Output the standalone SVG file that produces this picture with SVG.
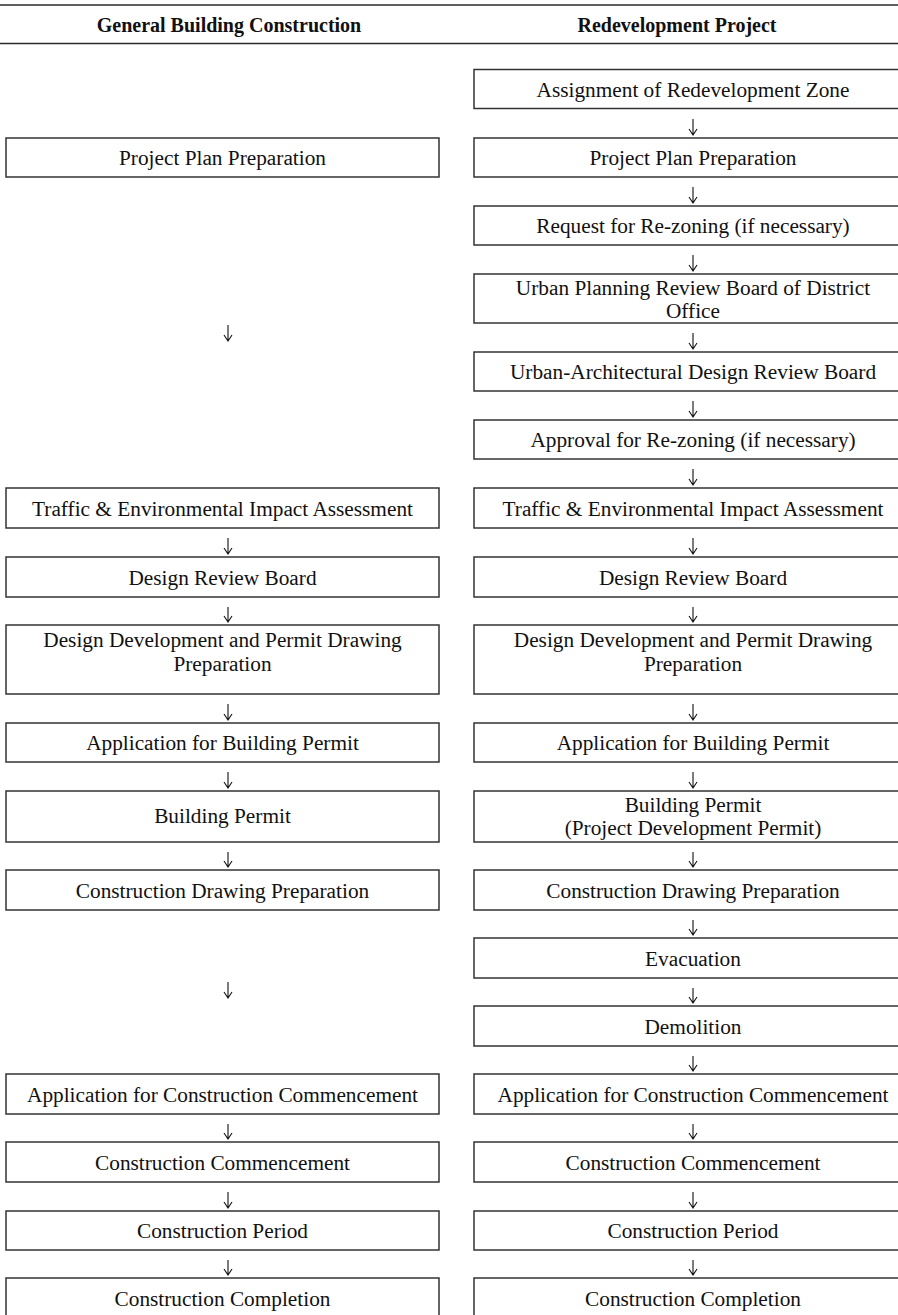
<svg xmlns="http://www.w3.org/2000/svg" width="898" height="1315" viewBox="0 0 898 1315">
<style>
.bg{fill:#fff}
.rule{stroke:#2a2a2a;stroke-width:1.6}
.box{fill:#fff;stroke:#333;stroke-width:1.5}
.t{font-family:"Liberation Serif","Times New Roman",serif;font-size:21.3px;fill:#111;text-anchor:middle}
.h{font-family:"Liberation Serif","Times New Roman",serif;font-size:20px;font-weight:bold;fill:#111;text-anchor:middle}
.arr{fill:none;stroke:#111;stroke-width:1.1}
</style>
<rect class="bg" x="0" y="0" width="898" height="1315"/>
<g id="header">
<line class="rule" x1="0" y1="5" x2="898" y2="5"/>
<line class="rule" x1="0" y1="43.5" x2="898" y2="43.5"/>
<text class="h" x="229" y="32">General Building Construction</text>
<text class="h" x="677" y="32">Redevelopment Project</text>
</g>
<g id="left-column">
<g id="L1"><rect class="box" x="6" y="138" width="433" height="39"/><text class="t" x="222.5" y="165">Project Plan Preparation</text></g>
<g id="L2"><rect class="box" x="6" y="488" width="433" height="40"/><text class="t" x="222.5" y="516">Traffic &amp; Environmental Impact Assessment</text></g>
<g id="L3"><rect class="box" x="6" y="557" width="433" height="40"/><text class="t" x="222.5" y="585">Design Review Board</text></g>
<g id="L4"><rect class="box" x="6" y="625" width="433" height="69"/><text class="t" x="222.5" y="647">Design Development and Permit Drawing</text><text class="t" x="222.5" y="671">Preparation</text></g>
<g id="L5"><rect class="box" x="6" y="723" width="433" height="39"/><text class="t" x="222.5" y="750">Application for Building Permit</text></g>
<g id="L6"><rect class="box" x="6" y="791" width="433" height="51"/><text class="t" x="222.5" y="823">Building Permit</text></g>
<g id="L7"><rect class="box" x="6" y="870" width="433" height="40"/><text class="t" x="222.5" y="898">Construction Drawing Preparation</text></g>
<g id="L8"><rect class="box" x="6" y="1074" width="433" height="40"/><text class="t" x="222.5" y="1102">Application for Construction Commencement</text></g>
<g id="L9"><rect class="box" x="6" y="1142" width="433" height="40"/><text class="t" x="222.5" y="1170">Construction Commencement</text></g>
<g id="L10"><rect class="box" x="6" y="1211" width="433" height="39"/><text class="t" x="222.5" y="1238">Construction Period</text></g>
<g id="L11"><rect class="box" x="6" y="1278" width="433" height="45"/><text class="t" x="222.5" y="1306">Construction Completion</text></g>
</g>
<g id="right-column">
<g id="R1"><rect class="box" x="474" y="69.5" width="440" height="39"/><text class="t" x="693" y="96.5">Assignment of Redevelopment Zone</text></g>
<g id="R2"><rect class="box" x="474" y="138" width="440" height="39"/><text class="t" x="693" y="165">Project Plan Preparation</text></g>
<g id="R3"><rect class="box" x="474" y="206" width="440" height="39"/><text class="t" x="693" y="233">Request for Re-zoning (if necessary)</text></g>
<g id="R4"><rect class="box" x="474" y="274" width="440" height="49"/><text class="t" x="693" y="295">Urban Planning Review Board of District</text><text class="t" x="693" y="318">Office</text></g>
<g id="R5"><rect class="box" x="474" y="352" width="440" height="39"/><text class="t" x="693" y="379">Urban-Architectural Design Review Board</text></g>
<g id="R6"><rect class="box" x="474" y="420" width="440" height="39"/><text class="t" x="693" y="447">Approval for Re-zoning (if necessary)</text></g>
<g id="R7"><rect class="box" x="474" y="488" width="440" height="40"/><text class="t" x="693" y="516">Traffic &amp; Environmental Impact Assessment</text></g>
<g id="R8"><rect class="box" x="474" y="557" width="440" height="40"/><text class="t" x="693" y="585">Design Review Board</text></g>
<g id="R9"><rect class="box" x="474" y="625" width="440" height="69"/><text class="t" x="693" y="647">Design Development and Permit Drawing</text><text class="t" x="693" y="671">Preparation</text></g>
<g id="R10"><rect class="box" x="474" y="723" width="440" height="39"/><text class="t" x="693" y="750">Application for Building Permit</text></g>
<g id="R11"><rect class="box" x="474" y="791" width="440" height="51"/><text class="t" x="693" y="812">Building Permit</text><text class="t" x="693" y="835">(Project Development Permit)</text></g>
<g id="R12"><rect class="box" x="474" y="870" width="440" height="40"/><text class="t" x="693" y="898">Construction Drawing Preparation</text></g>
<g id="R13"><rect class="box" x="474" y="938" width="440" height="40"/><text class="t" x="693" y="966">Evacuation</text></g>
<g id="R14"><rect class="box" x="474" y="1006" width="440" height="40"/><text class="t" x="693" y="1034">Demolition</text></g>
<g id="R15"><rect class="box" x="474" y="1074" width="440" height="40"/><text class="t" x="693" y="1102">Application for Construction Commencement</text></g>
<g id="R16"><rect class="box" x="474" y="1142" width="440" height="40"/><text class="t" x="693" y="1170">Construction Commencement</text></g>
<g id="R17"><rect class="box" x="474" y="1211" width="440" height="39"/><text class="t" x="693" y="1238">Construction Period</text></g>
<g id="R18"><rect class="box" x="474" y="1278" width="440" height="45"/><text class="t" x="693" y="1306">Construction Completion</text></g>
</g>
<g id="connectors">
<path class="arr" d="M228 325V341M224 335L228 341L232 335"/>
<path class="arr" d="M228 538V554M224 548L228 554L232 548"/>
<path class="arr" d="M228 607V622M224 616L228 622L232 616"/>
<path class="arr" d="M228 704V720M224 714L228 720L232 714"/>
<path class="arr" d="M228 772V788M224 782L228 788L232 782"/>
<path class="arr" d="M228 852V867M224 861L228 867L232 861"/>
<path class="arr" d="M228 982V998M224 992L228 998L232 992"/>
<path class="arr" d="M228 1124V1139M224 1133L228 1139L232 1133"/>
<path class="arr" d="M228 1192V1208M224 1202L228 1208L232 1202"/>
<path class="arr" d="M228 1260V1275M224 1269L228 1275L232 1269"/>
<path class="arr" d="M693 119V135M689 129L693 135L697 129"/>
<path class="arr" d="M693 187V203M689 197L693 203L697 197"/>
<path class="arr" d="M693 255V271M689 265L693 271L697 265"/>
<path class="arr" d="M693 333V349M689 343L693 349L697 343"/>
<path class="arr" d="M693 401V417M689 411L693 417L697 411"/>
<path class="arr" d="M693 469V485M689 479L693 485L697 479"/>
<path class="arr" d="M693 538V554M689 548L693 554L697 548"/>
<path class="arr" d="M693 607V622M689 616L693 622L697 616"/>
<path class="arr" d="M693 704V720M689 714L693 720L697 714"/>
<path class="arr" d="M693 772V788M689 782L693 788L697 782"/>
<path class="arr" d="M693 852V867M689 861L693 867L697 861"/>
<path class="arr" d="M693 920V935M689 929L693 935L697 929"/>
<path class="arr" d="M693 988V1003M689 997L693 1003L697 997"/>
<path class="arr" d="M693 1056V1071M689 1065L693 1071L697 1065"/>
<path class="arr" d="M693 1124V1139M689 1133L693 1139L697 1133"/>
<path class="arr" d="M693 1192V1208M689 1202L693 1208L697 1202"/>
<path class="arr" d="M693 1260V1275M689 1269L693 1275L697 1269"/>
</g>
</svg>
